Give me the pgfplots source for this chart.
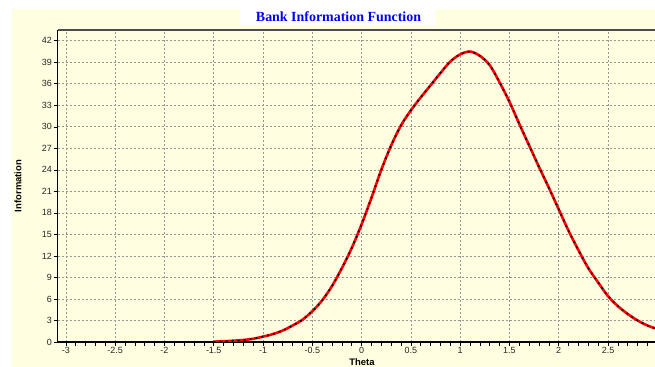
\documentclass[border=0pt]{standalone}
\usepackage{pgfplots}
\pgfplotsset{compat=1.18}
\usepackage{fontspec}
\setmainfont{Liberation Sans}
\newfontfamily\titlefont{Liberation Serif}
\definecolor{cream}{RGB}{255,254,224}
\definecolor{gridgray}{RGB}{150,150,150}
\definecolor{titleblue}{RGB}{0,0,255}
\definecolor{curvered}{RGB}{255,0,0}
\begin{document}
\begin{tikzpicture}
\useasboundingbox (0,0) rectangle (655bp,367bp);
\fill[white] (0,0) rectangle (655bp,367bp);
\fill[cream] (12bp,0) rectangle (655bp,358bp);
\fill[white] (240bp,342bp) rectangle (435bp,358bp);
\node[font=\titlefont\bfseries\fontsize{14}{16}\selectfont, text=titleblue, anchor=center] at (338.5bp,350bp) {Bank Information Function};
\begin{axis}[
  at={(57.5bp,25bp)}, anchor=south west,
  scale only axis, width=599.8bp, height=312bp,
  xmin=-3.085, xmax=3, ymin=0, ymax=43.5,
  axis lines=left,
  axis line style={-, line width=1.6bp, black},
  xtick={-3,-2.5,-2,-1.5,-1,-0.5,0,0.5,1,1.5,2,2.5,3},
  xticklabels={-3,-2.5,-2,-1.5,-1,-0.5,0,0.5,1,1.5,2,2.5,3},
  ytick={0,3,6,9,12,15,18,21,24,27,30,33,36,39,42},
  yticklabels={0,3,6,9,12,15,18,21,24,27,30,33,36,39,42},
  minor x tick num=4,
  tick align=outside,
  major tick length=4bp, minor tick length=3.5bp,
  tick style={black, line width=0.6bp},
  grid=major,
  major grid style={gridgray, line width=0.7bp, dash pattern=on 2bp off 2bp},
  ticklabel style={font=\fontsize{9}{10}\selectfont, text=black!85},
  xticklabel style={inner sep=1bp, yshift=-0.5bp},
  yticklabel style={inner sep=1.5bp},
  xlabel={Theta}, ylabel={Information},
  xlabel style={font=\bfseries\fontsize{9.5}{11}\selectfont, at={(axis description cs:0.5077,0)}, anchor=center, yshift=-20bp},
  ylabel style={font=\bfseries\fontsize{9.5}{11}\selectfont, at={(axis description cs:-0.0659,0.5)}, anchor=center},
  clip=true,
]
\draw[black!70, line width=1.2bp] (rel axis cs:0,1) -- (rel axis cs:1,1);
\pgfplotstableread{
x y
-1.5 0.05
-1.4 0.1
-1.3 0.18
-1.2 0.28
-1.1 0.45
-1.0 0.75
-0.9 1.1
-0.8 1.6
-0.7 2.3
-0.6 3.1
-0.5 4.3
-0.4 5.8
-0.3 7.8
-0.2 10.3
-0.1 13.1
0 16.4
0.1 20.1
0.2 24.0
0.3 27.4
0.4 30.2
0.5 32.3
0.6 34.1
0.7 35.8
0.8 37.5
0.9 39.1
1.0 40.1
1.1 40.5
1.2 39.9
1.3 38.6
1.4 36.2
1.5 33.5
1.6 30.4
1.7 27.4
1.8 24.4
1.9 21.5
2.0 18.5
2.1 15.5
2.2 12.8
2.3 10.3
2.4 8.3
2.5 6.4
2.6 5.0
2.7 3.9
2.8 3.0
2.9 2.3
3.0 1.8
}\curvedata
\addplot[curvered, line width=2.6bp, smooth] table[x=x,y=y] {\curvedata};
\addplot[black, line width=1.6bp, smooth, dash pattern=on 1.8bp off 4.2bp] table[x=x,y=y] {\curvedata};
\end{axis}
\end{tikzpicture}
\end{document}
